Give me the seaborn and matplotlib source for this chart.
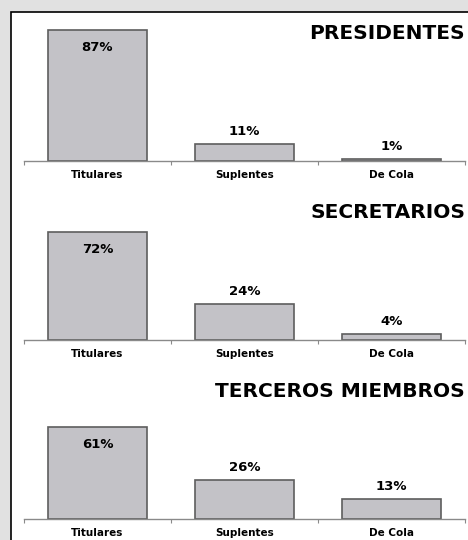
import matplotlib
matplotlib.use("Agg")
import matplotlib.pyplot as plt
from matplotlib.patches import Rectangle
import pandas as pd
import seaborn as sns

# data
categorias = ["Titulares", "Suplentes", "De Cola"]
presidentes = [87, 11, 1]
secretarios = [72, 24, 4]
terceros = [61, 26, 13]
titulos = ["PRESIDENTES", "SECRETARIOS", "TERCEROS MIEMBROS"]

sns.set_style("white")
plt.rcParams["font.family"] = ["DejaVu Sans"]

W, H = 468, 540
fig = plt.figure(figsize=(W / 100, H / 100), dpi=100, facecolor="#e1e1e1")

# white panel with black border (only left/top edges visible)
fig.add_artist(Rectangle((11 / W, -0.1), 1.2, 1.1 - 12 / H, transform=fig.transFigure,
                         facecolor="white", edgecolor="black", lw=1.2, zorder=-1))

axis_y = [161, 340, 519]   # y of x-axis line, px from top
x0, x1 = 24, 465
alto = 150.5               # px for 100 %

for serie, titulo, y in zip([presidentes, secretarios, terceros], titulos, axis_y):
    ax = fig.add_axes([x0 / W, 1 - y / H, (x1 - x0) / W, alto / H])
    ax.set_facecolor("none")
    df = pd.DataFrame({"cat": categorias, "pct": serie})
    sns.barplot(data=df, x="cat", y="pct", ax=ax, color="#c3c2c7", saturation=1,
                edgecolor="#5e5e5e", linewidth=1.2, width=0.667)
    ax.set_xlim(-0.5, 2.5)
    ax.set_ylim(0, 100)
    ax.set_xlabel("")
    ax.set_ylabel("")
    ax.set_yticks([])
    for s in ["left", "top", "right"]:
        ax.spines[s].set_visible(False)
    ax.spines["bottom"].set_color("#8a8a8a")
    ax.spines["bottom"].set_linewidth(1.0)
    ax.tick_params(axis="x", which="major", bottom=True, length=0, pad=6.5,
                   labelsize=7.5, labelcolor="black")
    for lab in ax.get_xticklabels():
        lab.set_fontweight("bold")
    ax.set_xticks([-0.5, 0.5, 1.5, 2.5], minor=True)
    ax.tick_params(axis="x", which="minor", bottom=True, length=3, width=0.8,
                   color="#8a8a8a", direction="out")

    for i, p in enumerate(ax.patches):
        h = p.get_height()
        cx = p.get_x() + p.get_width() / 2
        off = -12.5 if i == 0 else 9
        ax.annotate(f"{h:.0f}%", (cx, h), xytext=(0, off), textcoords="offset points",
                    ha="center", va="center", fontsize=9.5, fontweight="bold",
                    color="black")

    ax.annotate(titulo, (1, 0), xycoords="axes fraction", xytext=(0, 92),
                textcoords="offset points", ha="right", va="center",
                fontsize=14.5, fontweight="bold", color="black")

fig.savefig("out.png", dpi=100, facecolor=fig.get_facecolor())
